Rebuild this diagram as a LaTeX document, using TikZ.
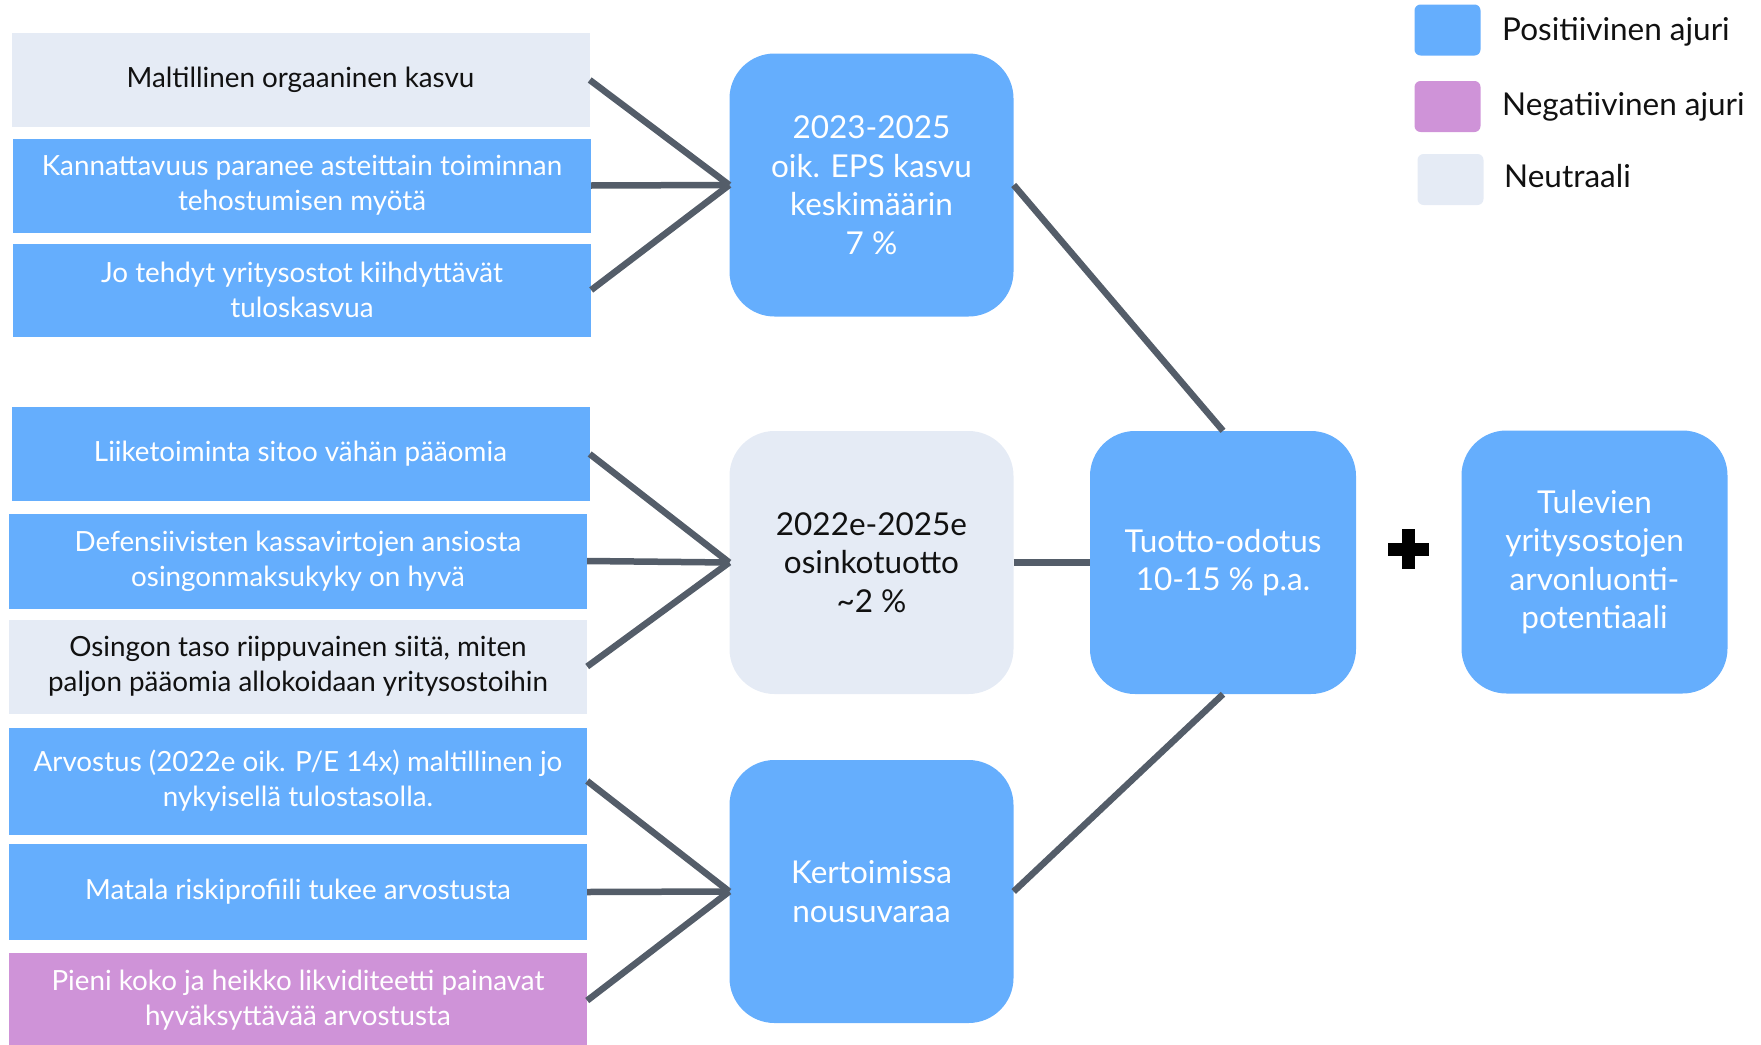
\documentclass[tikz,border=0pt]{standalone}
\usepackage{fontspec}
\setmainfont{Lato}
\definecolor{pos}{HTML}{65AEFD}
\definecolor{neu}{HTML}{E5EBF5}
\definecolor{neg}{HTML}{CF93D8}
\definecolor{lnk}{HTML}{545D69}
\definecolor{txt}{HTML}{111111}
\tikzset{
  lbox/.style={rectangle, inner sep=0pt, align=center, minimum width=578pt,
    font=\fontsize{27.8}{35}\selectfont},
  lpos/.style={lbox, fill=pos, text=white},
  lneu/.style={lbox, fill=neu, text=txt},
  lneg/.style={lbox, fill=neg, text=white},
  mbox/.style={rectangle, rounded corners=45pt, inner sep=0pt, align=center,
    minimum width=284pt, minimum height=263pt, font=\fontsize{31.5}{38.5}\selectfont},
  rbox/.style={mbox, minimum width=266pt},
  link/.style={draw=lnk, line width=6.5pt},
  legsq/.style={rectangle, rounded corners=6pt, minimum width=66pt, minimum height=51pt, inner sep=0pt},
  legtx/.style={anchor=base west, inner sep=0pt, text=txt, font=\fontsize{31.5}{36}\selectfont},
}
\begin{document}
\begin{tikzpicture}[x=1pt,y=-1pt]
\useasboundingbox (0,0) rectangle (1761,1044);
% left boxes
\node[lneu, minimum height=94pt] (b1) at (300.5,80) {Maltillinen orgaaninen kasvu};
\node[lpos, minimum height=94pt] (b2) at (302,185.5) {Kannattavuus paranee asteittain toiminnan\\tehostumisen myötä};
\node[lpos, minimum height=93pt] (b3) at (302,290) {Jo tehdyt yritysostot kiihdyttävät\\tuloskasvua};
\node[lpos, minimum height=94pt] (b4) at (300.5,454) {Liiketoiminta sitoo vähän pääomia};
\node[lpos, minimum height=95pt] (b5) at (298,561) {Defensiivisten kassavirtojen ansiosta\\osingonmaksukyky on hyvä};
\node[lneu, minimum height=94pt] (b6) at (298,666.5) {Osingon taso riippuvainen siitä, miten\\paljon pääomia allokoidaan yritysostoihin};
\node[lpos, minimum height=107pt] (b7) at (298,781) {Arvostus (2022e oik. P/E 14x) maltillinen jo\\nykyisellä tulostasolla.};
\node[lpos, minimum height=96pt] (b8) at (298,892) {Matala riskiprofiili tukee arvostusta};
\node[lneg, minimum height=96pt] (b9) at (298,1000.5) {Pieni koko ja heikko likviditeetti painavat\\hyväksyttävää arvostusta};
% middle boxes
\node[mbox, fill=pos, text=white] (eps) at (871.5,185) {2023-2025\\oik. EPS kasvu\\keskimäärin\\7 \%};
\node[mbox, fill=neu, text=txt] (div) at (871.5,562.5) {2022e-2025e\\osinkotuotto\\\textasciitilde2 \%};
\node[mbox, fill=pos, text=white] (mul) at (871.5,891.5) {Kertoimissa\\nousuvaraa};
% right boxes
\node[rbox, fill=pos, text=white] (ret) at (1223,562.5) {Tuotto-odotus\\10-15 \% p.a.};
\node[rbox, fill=pos, text=white] (acq) at (1594.5,562) {Tulevien\\yritysostojen\\arvonluonti-\\potentiaali};
% plus
\node[fill=black, minimum width=41pt, minimum height=13pt, inner sep=0pt] (plh) at (1408.5,549) {};
\node[fill=black, minimum width=13pt, minimum height=40pt, inner sep=0pt] (plv) at (1408.5,549) {};
% connectors
\draw[link] (b1.east) -- (eps.west);
\draw[link] (b2.east) -- (eps.west);
\draw[link] (b3.east) -- (eps.west);
\draw[link] (b4.east) -- (div.west);
\draw[link] (b5.east) -- (div.west);
\draw[link] (b6.east) -- (div.west);
\draw[link] (b7.east) -- (mul.west);
\draw[link] (b8.east) -- (mul.west);
\draw[link] (b9.east) -- (mul.west);
\draw[link] (eps.east) -- (ret.north);
\draw[link] (div.east) -- (ret.west);
\draw[link] (mul.east) -- (ret.south);
% legend
\node[legsq, fill=pos] (lg1) at (1447.5,30) {};
\node[legsq, fill=neg] (lg2) at (1447.5,106.5) {};
\node[legsq, fill=neu] (lg3) at (1450.5,179.5) {};
\node[legtx] (lt1) at (1502,40) {Positiivinen ajuri};
\node[legtx] (lt2) at (1502,115) {Negatiivinen ajuri};
\node[legtx] (lt3) at (1504,187) {Neutraali};
\end{tikzpicture}
\end{document}
